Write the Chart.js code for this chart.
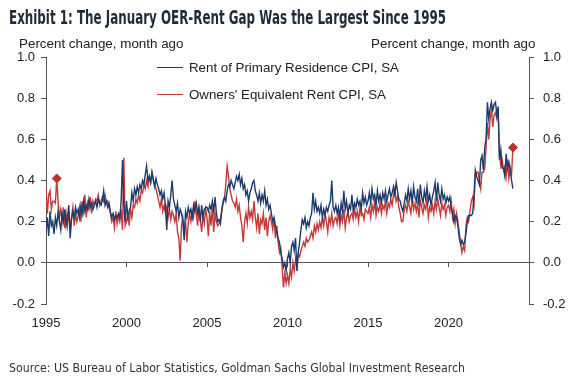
<!DOCTYPE html>
<html><head><meta charset="utf-8">
<script src="https://cdn.jsdelivr.net/npm/chart.js@4.4.1/dist/chart.umd.min.js"></script>
<style>
html,body{margin:0;padding:0;background:#fff;}
#wrap{position:relative;width:575px;height:377px;overflow:hidden;font-family:"Liberation Sans",Arial,sans-serif;}
#c{position:absolute;left:0;top:0;}
.t{position:absolute;white-space:nowrap;line-height:1;}
.fit{transform-origin:0 50%;}
#title{left:9px;top:8px;font-family:"DejaVu Sans",sans-serif;font-weight:bold;font-size:19.5px;color:#1f2a3b;}
.unit{top:37px;font-size:13.4px;color:#222;}
#uL{left:19px;} #uR{left:371px;}
.leg{left:157px;font-size:13.3px;color:#222;}
.leg span{display:inline-block;width:26px;height:0;border-top:1.4px solid;vertical-align:middle;margin-right:6px;position:relative;top:-1px;}
#l1{top:61px;} #l2{top:88px;}
#src{left:9px;top:361px;font-family:"DejaVu Sans",sans-serif;font-size:13px;color:#333;}
</style></head>
<body><div id="wrap">
<canvas id="c" width="575" height="377"></canvas>
<div class="t fit" id="title" data-w="437">Exhibit 1: The January OER-Rent Gap Was the Largest Since 1995</div>
<div class="t unit" id="uL">Percent change, month ago</div>
<div class="t unit" id="uR">Percent change, month ago</div>
<div class="t leg" id="l1"><span style="border-color:#1d3b6b"></span>Rent of Primary Residence CPI, SA</div>
<div class="t leg" id="l2"><span style="border-color:#c43a3a"></span>Owners' Equivalent Rent CPI, SA</div>
<div class="t fit" id="src" data-w="456">Source: US Bureau of Labor Statistics, Goldman Sachs Global Investment Research</div>
</div>
<script>
// Monthly series, Jan 1995 .. Jan 2024 (percent change, month ago)
const startYear = 1995;
const rent = [
0.15,0.22,0.13,0.25,0.18,0.20,0.14,0.22,0.18,0.25,0.20,0.16,
0.24,0.20,0.26,0.18,0.22,0.28,0.12,0.21,0.25,0.22,0.27,0.24,
0.26,0.22,0.28,0.24,0.30,0.25,0.28,0.26,0.31,0.27,0.29,0.26,
0.28,0.30,0.27,0.31,0.29,0.28,0.30,0.35,0.28,0.30,0.27,0.29,
0.25,0.22,0.24,0.21,0.23,0.22,0.24,0.22,0.30,0.50,0.28,0.20,
0.30,0.22,0.25,0.27,0.34,0.30,0.36,0.33,0.37,0.34,0.38,0.36,
0.40,0.38,0.43,0.47,0.40,0.42,0.39,0.44,0.40,0.37,0.41,0.38,
0.36,0.33,0.35,0.31,0.34,0.28,0.16,0.30,0.27,0.33,0.40,0.31,
0.28,0.25,0.29,0.22,0.26,0.24,0.20,0.11,0.25,0.22,0.27,0.24,
0.26,0.22,0.28,0.25,0.29,0.24,0.27,0.20,0.28,0.22,0.26,0.27,
0.27,0.25,0.28,0.26,0.30,0.25,0.32,0.24,0.20,0.21,0.19,0.26,
0.30,0.32,0.30,0.35,0.38,0.37,0.40,0.38,0.36,0.39,0.42,0.40,
0.43,0.38,0.41,0.36,0.38,0.33,0.35,0.30,0.34,0.36,0.39,0.40,
0.35,0.33,0.30,0.34,0.29,0.33,0.30,0.35,0.28,0.31,0.26,0.28,
0.24,0.20,0.22,0.18,0.15,0.12,0.10,0.05,0.02,-0.02,0.00,-0.04,
0.02,0.05,0.00,0.08,0.10,0.06,0.12,-0.04,0.05,0.10,0.16,0.21,
0.19,0.22,0.17,0.20,0.18,0.22,0.24,0.34,0.26,0.30,0.25,0.27,
0.24,0.28,0.22,0.26,0.23,0.27,0.25,0.28,0.30,0.40,0.27,0.25,
0.28,0.24,0.27,0.22,0.29,0.25,0.35,0.26,0.30,0.24,0.28,0.26,
0.33,0.25,0.29,0.27,0.31,0.28,0.30,0.26,0.34,0.29,0.32,0.28,
0.30,0.34,0.29,0.36,0.31,0.33,0.28,0.35,0.30,0.33,0.29,0.34,
0.31,0.35,0.30,0.33,0.36,0.32,0.34,0.37,0.33,0.39,0.35,0.31,
0.30,0.27,0.25,0.29,0.33,0.30,0.36,0.31,0.35,0.29,0.37,0.32,
0.30,0.36,0.28,0.38,0.32,0.29,0.35,0.31,0.37,0.30,0.33,0.28,
0.32,0.35,0.39,0.30,0.39,0.33,0.30,0.36,0.31,0.33,0.29,0.32,
0.30,0.32,0.27,0.24,0.20,0.23,0.22,0.18,0.12,0.09,0.11,0.09,
0.10,0.14,0.20,0.23,0.23,0.23,0.24,0.33,0.45,0.42,0.40,0.38,
0.50,0.52,0.45,0.56,0.60,0.78,0.70,0.75,0.78,0.74,0.77,0.78,
0.72,0.76,0.50,0.55,0.46,0.46,0.42,0.53,0.46,0.49,0.45,0.40,
0.36
];
const oer = [
0.36,0.24,0.33,0.35,0.26,0.30,0.30,0.29,0.41,0.30,0.22,0.26,
0.20,0.27,0.17,0.24,0.18,0.25,0.16,0.22,0.27,0.18,0.24,0.20,
0.23,0.27,0.20,0.30,0.25,0.33,0.22,0.29,0.26,0.32,0.24,0.30,
0.28,0.31,0.30,0.33,0.28,0.30,0.32,0.30,0.33,0.29,0.30,0.27,
0.24,0.20,0.22,0.17,0.25,0.19,0.23,0.20,0.26,0.16,0.51,0.18,
0.20,0.24,0.18,0.26,0.22,0.28,0.27,0.31,0.29,0.33,0.30,0.35,
0.34,0.38,0.36,0.40,0.37,0.42,0.39,0.44,0.41,0.38,0.36,0.33,
0.30,0.27,0.31,0.25,0.28,0.24,0.27,0.22,0.26,0.21,0.25,0.23,
0.20,0.24,0.15,0.12,0.01,0.18,0.22,0.15,0.20,0.10,0.19,0.24,
0.20,0.25,0.22,0.30,0.24,0.18,0.26,0.21,0.15,0.23,0.19,0.26,
0.22,0.13,0.25,0.18,0.27,0.15,0.24,0.20,0.18,0.19,0.21,0.25,
0.29,0.31,0.38,0.47,0.42,0.36,0.33,0.30,0.29,0.27,0.31,0.25,
0.28,0.22,0.18,0.10,0.20,0.24,0.19,0.27,0.22,0.25,0.21,0.30,
0.22,0.17,0.24,0.14,0.21,0.19,0.24,0.16,0.22,0.13,0.20,0.23,
0.20,0.16,0.22,0.12,0.18,0.10,0.05,0.07,-0.02,-0.12,-0.05,-0.10,
-0.06,-0.10,-0.03,-0.07,0.00,-0.04,0.02,-0.02,0.04,0.03,0.06,0.08,
0.10,0.08,0.12,0.10,0.11,0.13,0.15,0.12,0.18,0.15,0.19,0.16,
0.20,0.17,0.22,0.18,0.24,0.20,0.15,0.22,0.19,0.24,0.18,0.21,
0.22,0.19,0.25,0.18,0.23,0.20,0.26,0.17,0.22,0.25,0.20,0.23,
0.24,0.21,0.26,0.22,0.25,0.20,0.27,0.23,0.24,0.21,0.26,0.25,
0.24,0.27,0.22,0.28,0.25,0.30,0.23,0.27,0.25,0.29,0.24,0.28,
0.26,0.30,0.24,0.29,0.27,0.31,0.28,0.33,0.36,0.30,0.32,0.27,
0.24,0.20,0.20,0.26,0.28,0.25,0.30,0.27,0.24,0.31,0.26,0.29,
0.25,0.29,0.22,0.30,0.27,0.24,0.28,0.26,0.31,0.22,0.27,0.25,
0.28,0.24,0.30,0.26,0.31,0.27,0.23,0.29,0.26,0.28,0.23,0.27,
0.28,0.25,0.30,0.22,0.26,0.19,0.24,0.20,0.15,0.10,0.05,0.08,
0.06,0.18,0.22,0.20,0.25,0.30,0.32,0.28,0.43,0.44,0.44,0.40,
0.36,0.44,0.44,0.46,0.56,0.68,0.60,0.70,0.74,0.66,0.72,0.73,
0.70,0.74,0.52,0.47,0.50,0.45,0.47,0.42,0.50,0.41,0.46,0.43,
0.56
];
// highlighted OER months (index from Jan 1995)
const markerIdx = [8, 348];
const yTicks = [-0.2, 0.0, 0.2, 0.4, 0.6, 0.8, 1.0];
const xTickLabels = ['1995','2000','2005','2010','2015','2020'];

// squeeze condensed-style texts to the reference widths
document.querySelectorAll('.fit').forEach(el => {
  const w = el.getBoundingClientRect().width;
  el.style.transform = 'scaleX(' + (+el.dataset.w / w) + ')';
});

const toPts = arr => arr.map((v, i) => ({x: startYear + i / 12, y: v}));
const navy = '#1d3b6b', red = '#c43a3a', axisCol = '#555';
const tickFont = {family: '"Liberation Sans", Arial, sans-serif', size: 13};

new Chart(document.getElementById('c'), {
  type: 'line',
  data: {datasets: [
    {data: toPts(oer), borderColor: red, borderWidth: 1.4, pointRadius: 0, tension: 0, order: 2},
    {data: toPts(rent), borderColor: navy, borderWidth: 1.4, pointRadius: 0, tension: 0, order: 1},
    {data: markerIdx.map(i => ({x: startYear + i / 12, y: oer[i]})), showLine: false,
     pointStyle: 'rectRot', pointRadius: 4.5, backgroundColor: '#c0302b', borderColor: '#c0302b', order: 0}
  ]},
  options: {
    responsive: false, animation: false, devicePixelRatio: 1,
    layout: {padding: {left: 0, right: 0, top: 57, bottom: 0}},
    plugins: {legend: {display: false}, tooltip: {enabled: false}},
    scales: {
      x: {type: 'linear', min: 1995, max: 2025, position: {y: 0},
          ticks: {display: false, stepSize: 5},
          grid: {drawOnChartArea: false, drawTicks: true, tickLength: 4, color: axisCol},
          border: {display: true, color: axisCol}},
      xl: {type: 'linear', axis: 'x', position: 'bottom', min: 1995, max: 2025,
           afterBuildTicks: s => { s.ticks = xTickLabels.map(v => ({value: +v})); },
           afterFit: s => { s.height = 73; },
           ticks: {autoSkip: false, maxRotation: 0, padding: 12, color: '#222', font: tickFont, callback: v => String(v)},
           grid: {display: false, drawTicks: false}, border: {display: false}},
      y: {min: -0.2, max: 1.0, position: 'left',
          afterBuildTicks: s => { s.ticks = yTicks.map(v => ({value: v})); },
          afterFit: s => { s.width = 46; },
          ticks: {padding: 6, color: '#222', font: tickFont, callback: v => v.toFixed(1)},
          grid: {drawOnChartArea: false, tickLength: 5, color: axisCol},
          border: {display: true, color: axisCol}},
      y2: {min: -0.2, max: 1.0, position: 'right',
          afterBuildTicks: s => { s.ticks = yTicks.map(v => ({value: v})); },
          afterFit: s => { s.width = 46; },
          ticks: {padding: 9, color: '#222', font: tickFont, callback: v => v.toFixed(1)},
          grid: {drawOnChartArea: false, tickLength: 5, color: axisCol},
          border: {display: true, color: axisCol}}
    }
  }
});
</script>
</body></html>
